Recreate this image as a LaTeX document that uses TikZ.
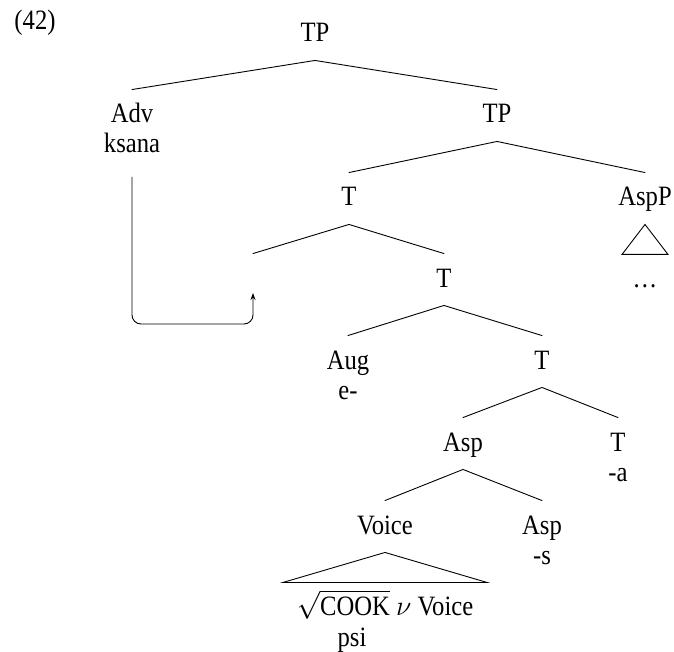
\RequirePackage{fix-cm}
\documentclass[tikz,border=0pt]{standalone}
\usepackage{fontspec}
\setmainfont[FakeStretch=0.88]{Liberation Serif}
\usetikzlibrary{arrows.meta}
\begin{document}
\begin{tikzpicture}[x=1pt, y=-1pt, line width=0.9pt,
  lab/.style={anchor=base, inner sep=0pt, text height=33pt, text depth=18pt},
  sub/.style={anchor=base, inner sep=0pt},
  branch/.style={draw, line cap=round},
  every node/.append style={font=\fontsize{28}{33}\selectfont}]
  \useasboundingbox (0,0) rectangle (674,652);

  % example number
  \node[sub] (exnum) at (35,30) {(42)};

  % level 0
  \node[lab] (tp0) at (315,42) {TP};
  % level 1
  \node[lab] (adv) at (132,123) {Adv};
  \node[sub] (ksana) at (132,153) {ksana};
  \node[lab] (tp1) at (497,123) {TP};
  % level 2
  \node[lab] (t2) at (349,206) {T};
  \node[lab] (aspp) at (645,206) {AspP};
  % level 3
  \node[lab] (gap) at (253,287) {};
  \node[lab] (t3) at (444,287) {T};
  \node[sub] (dots) at (645,287) {\ldots};
  % level 4
  \node[lab] (aug) at (348,369) {Aug};
  \node[sub] (augform) at (348,399) {e-};
  \node[lab] (t4) at (542,369) {T};
  % level 5
  \node[lab] (asp5) at (463,451) {Asp};
  \node[lab] (t5) at (618,451) {T};
  \node[sub] (tform) at (618,481) {-a};
  % level 6
  \node[lab] (voice) at (385,534) {Voice};
  \node[lab] (asp6) at (542,534) {Asp};
  \node[sub] (aspform) at (542,564) {-s};
  % level 7
  \node[sub] (root) at (385,615) {$\sqrt{\mbox{COOK}}$ $\nu$ Voice};
  \node[sub] (psi) at (352,646) {psi};

  % branches
  \draw[branch] (adv.north) -- (tp0.south) -- (tp1.north);
  \draw[branch] (t2.north) -- (tp1.south) -- (aspp.north);
  \draw[branch] (gap.north) -- (t2.south) -- (t3.north);
  \draw[branch] (aug.north) -- (t3.south) -- (t4.north);
  \draw[branch] (asp5.north) -- (t4.south) -- (t5.north);
  \draw[branch] (voice.north) -- (asp5.south) -- (asp6.north);

  % roof triangles
  \draw[line join=miter] (aspp.south) -- ++(-23,30) -- ++(46,0) -- cycle;
  \draw[line join=miter] (voice.south) -- ++(-102,30) -- ++(204,0) -- cycle;

  % movement arrow
  \draw[-{Stealth[length=7pt,width=5pt]}, rounded corners=9pt]
    ([yshift=-24pt]ksana.base) |- ([yshift=-37pt]gap.base) -- ([yshift=-6pt]gap.base);
\end{tikzpicture}
\end{document}
